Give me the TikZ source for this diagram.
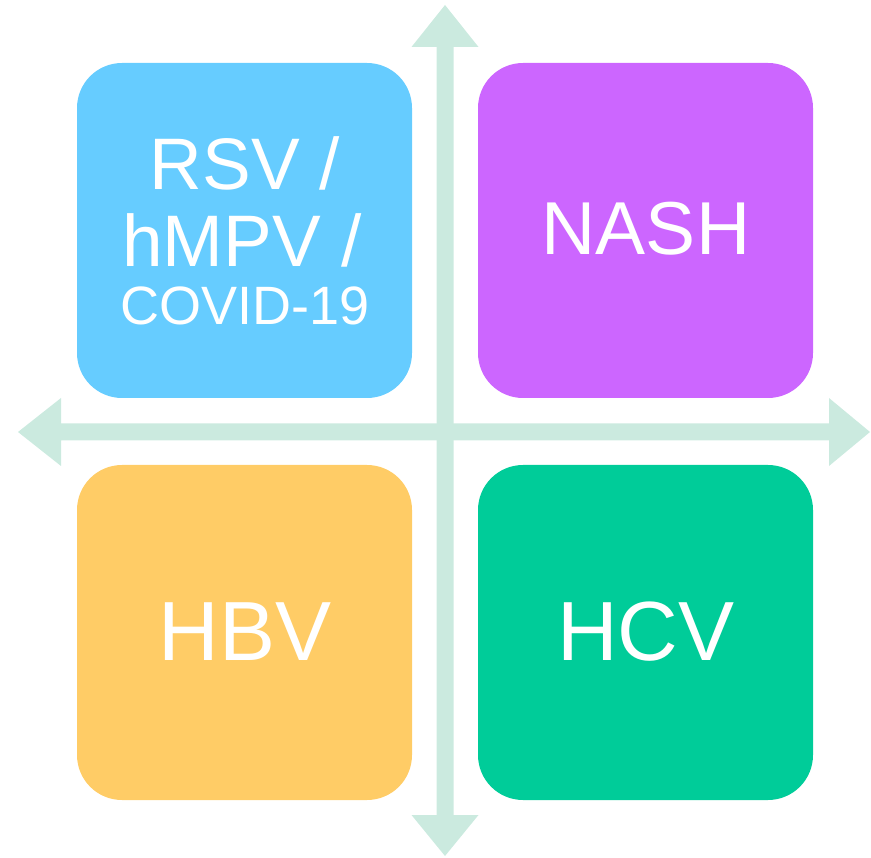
\documentclass[tikz,border=0pt]{standalone}
\usepackage{fontspec}
\setmainfont{Liberation Sans}
\definecolor{arr}{HTML}{CBEADF}
\definecolor{cblue}{HTML}{66CCFF}
\definecolor{cpurple}{HTML}{CC66FF}
\definecolor{corange}{HTML}{FFCC66}
\definecolor{cgreen}{HTML}{00CC99}
\tikzset{
  box/.style={rounded corners=45pt, inner sep=0pt, minimum width=335pt, minimum height=335pt},
  lbl/.style={text=white, anchor=base, inner sep=0pt},
}
\begin{document}
\begin{tikzpicture}[x=1pt,y=-1pt]
\useasboundingbox (0,0) rectangle (871,858);
% axes
\fill[arr] (436.5,47) -- (411.5,47) -- (445,5) -- (478.5,47) -- (453.5,47) -- (453.5,815) -- (478.5,815) -- (445,856) -- (411.5,815) -- (436.5,815) -- cycle;
\fill[arr] (61,423.5) -- (61,398) -- (18,432) -- (61,466) -- (61,440.5) -- (829,440.5) -- (829,466) -- (870,432) -- (829,398) -- (829,423.5) -- cycle;
% boxes
\node[box, fill=cblue] (tl) at (244.5,230.5) {};
\node[box, fill=cpurple] (tr) at (645.5,230.5) {};
\node[box, fill=corange] (bl) at (244.5,632.5) {};
\node[box, fill=cgreen] (br) at (645.5,632.5) {};
% labels
\node[lbl, font=\fontsize{73}{80}\selectfont] (t1) at (245,190) {RSV /};
\node[lbl, font=\fontsize{73}{80}\selectfont] (t2) at (242,267) {hMPV /};
\node[lbl, font=\fontsize{54}{58}\selectfont] (t3) at (245,325) {COVID-19};
\node[lbl, font=\fontsize{75}{80}\selectfont] (t4) at (646,255) {NASH};
\node[lbl, font=\fontsize{84}{88}\selectfont] (t5) at (245,660) {HBV};
\node[lbl, font=\fontsize{84}{88}\selectfont] (t6) at (646,660) {HCV};
\end{tikzpicture}
\end{document}
